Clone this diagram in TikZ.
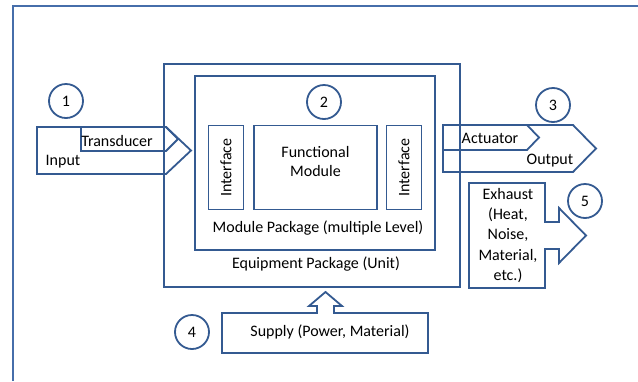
\documentclass[tikz,border=0pt]{standalone}
\usepackage{fontspec}
\setmainfont{Carlito}
\definecolor{lineblue}{RGB}{52,90,145}
\definecolor{frameblue}{RGB}{70,110,170}

\begin{document}
\begin{tikzpicture}[x=1pt,y=-1pt,
  line width=1.8pt,
  font=\fontsize{16}{19}\selectfont,
  box/.style={draw=lineblue,rectangle,inner sep=0pt},
  num/.style={draw=lineblue,circle,minimum size=34pt,inner sep=0pt},
  outline/.style={draw=lineblue,line join=miter}]
\useasboundingbox (0,0) rectangle (638,381);
% outer frame
\draw[frameblue,line width=1.3pt] (13,381) -- (13,6) -- (638,6);
% unit and module
\node[box,minimum width=296pt,minimum height=223pt] (equip) at (312,175.5) {};
\node[box,minimum width=240pt,minimum height=174pt] (modpkg) at (315,163) {};
\node[box,minimum width=35pt,minimum height=84pt] (ifl) at (226,167.5) {};
\node[box,minimum width=123pt,minimum height=84pt] (func) at (315.5,167.5) {};
\node[box,minimum width=35pt,minimum height=84pt] (ifr) at (404,167.5) {};
\node[rotate=90] (iflt) at (ifl) {Interface};
\node[rotate=90] (ifrt) at (ifr) {Interface};
\node[align=center] (funct) at (315.5,161) {Functional\\Module};
\node (modt) at (318,228) {Module Package (multiple Level)};
\node (equipt) at (316,264) {Equipment Package (Unit)};
% input side
\draw[outline] (37,127) -- (166,127) -- (191,150.5) -- (166,174) -- (37,174) -- cycle;
\draw[outline] (81,127) -- (166,127) -- (178,139) -- (166,151) -- (81,151) -- cycle;
\node (trans) at (117,141) {Transducer};
\node (input) at (63,162) {Input};
% output side
\draw[outline] (443,125) -- (573,125) -- (596,148.5) -- (573,172) -- (443,172) -- cycle;
\draw[outline] (443,125) -- (527,125) -- (539,137.5) -- (527,150) -- (443,150) -- cycle;
\node (act) at (490,138) {Actuator};
\node (output) at (550,161) {Output};
% exhaust
\draw[outline] (469,183) -- (545,183) -- (545,222) -- (559,222) -- (559,208)
  -- (586,235.5) -- (559,263) -- (559,249) -- (545,249) -- (545,288)
  -- (469,288) -- cycle;
\node[align=center,font=\fontsize{16}{20.3}\selectfont] (exh) at (508,235.5)
  {Exhaust\\(Heat,\\Noise,\\Material,\\etc.)};
% supply
\draw[outline] (222,313) -- (317,313) -- (317,306) -- (309,306) -- (325.5,292)
  -- (342,306) -- (334,306) -- (334,313) -- (428,313) -- (428,353)
  -- (222,353) -- cycle;
\node (supply) at (330,332) {Supply (Power, Material)};
% numbers
\node[num] (n1) at (66,101) {1};
\node[num] (n2) at (324,102) {2};
\node[num] (n3) at (553,105) {3};
\node[num] (n4) at (192,332) {4};
\node[num] (n5) at (585,201) {5};
\end{tikzpicture}
\end{document}
